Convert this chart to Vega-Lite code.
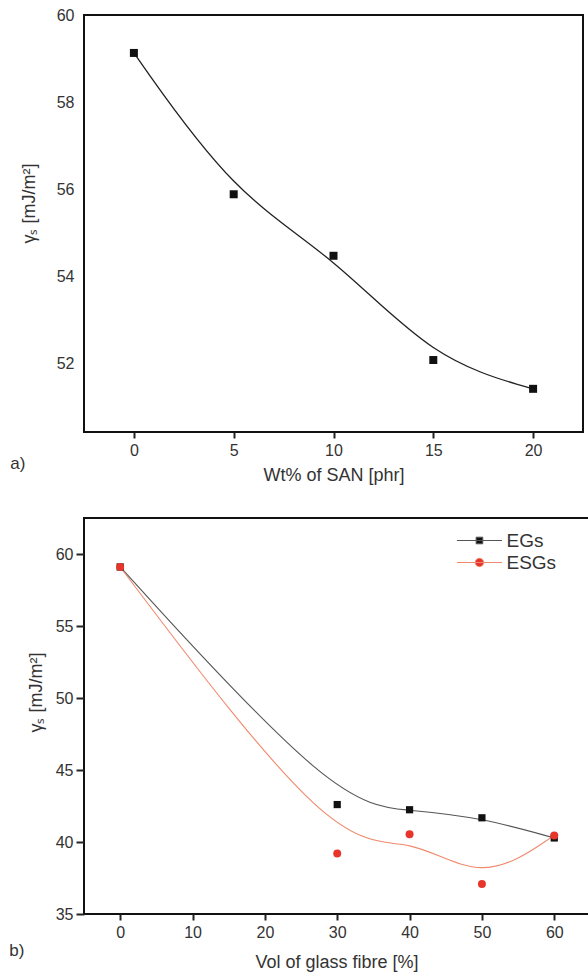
{
  "$schema": "https://vega.github.io/schema/vega-lite/v6.json",
  "padding": {"left": 8, "top": 6, "right": 0, "bottom": 0},
  "spacing": 86,
  "bounds": "flush",
  "config": {
    "font": "Liberation Sans",
    "view": {"stroke": "#111", "strokeWidth": 2},
    "axis": {"grid": false, "domain": false, "labelFont": "Liberation Sans", "titleFont": "Liberation Sans", "labelFontSize": 16, "titleFontSize": 18, "titleFontWeight": "normal", "labelColor": "#333", "titleColor": "#333", "tickColor": "#222", "tickWidth": 2},
    "legend": {"labelFont": "Liberation Sans", "labelFontSize": 19, "labelColor": "#333"},
    "title": {"font": "Liberation Sans", "fontSize": 17, "fontWeight": "normal", "color": "#333"}
  },
  "resolve": {"legend": {"fill": "independent", "shape": "independent", "stroke": "independent"}},
  "vconcat": [
    {
      "width": 499,
      "height": 417,
      "title": {"text": "a)", "orient": "bottom", "anchor": "start", "frame": "bounds", "dx": -10, "dy": -32},
      "data": {"values": [
        {"san": 0, "gamma": 59.13},
        {"san": 5, "gamma": 55.89},
        {"san": 10, "gamma": 54.48},
        {"san": 15, "gamma": 52.09},
        {"san": 20, "gamma": 51.43}
      ]},
      "encoding": {
        "x": {"field": "san", "type": "quantitative", "scale": {"domain": [-2.5, 22.5], "nice": false, "zero": false},
              "axis": {"values": [0, 5, 10, 15, 20], "title": "Wt% of SAN [phr]", "tickSize": 6, "labelPadding": 4, "titlePadding": 8}},
        "y": {"field": "gamma", "type": "quantitative", "scale": {"domain": [50.44, 60], "nice": false, "zero": false},
              "axis": {"values": [52, 54, 56, 58, 60], "title": "γₛ [mJ/m²]", "ticks": false, "labelPadding": 10, "titlePadding": 18, "titleY": 188}}
      },
      "layer": [
        {"mark": {"type": "line", "interpolate": "basis", "color": "#222", "strokeWidth": 1.3}},
        {"mark": {"type": "point", "shape": "square", "filled": true, "color": "#111", "opacity": 1, "size": 64}}
      ]
    },
    {
      "width": 505,
      "height": 396,
      "title": {"text": "b)", "orient": "bottom", "anchor": "start", "frame": "bounds", "dx": -18, "dy": -32},
      "data": {"values": [
        {"vol": 0, "gamma": 59.1, "series": "EGs"},
        {"vol": 30, "gamma": 42.6, "series": "EGs"},
        {"vol": 40, "gamma": 42.24, "series": "EGs"},
        {"vol": 50, "gamma": 41.68, "series": "EGs"},
        {"vol": 60, "gamma": 40.28, "series": "EGs"},
        {"vol": 0, "gamma": 59.1, "series": "ESGs"},
        {"vol": 30, "gamma": 39.2, "series": "ESGs"},
        {"vol": 40, "gamma": 40.53, "series": "ESGs"},
        {"vol": 50, "gamma": 37.08, "series": "ESGs"},
        {"vol": 60, "gamma": 40.46, "series": "ESGs"}
      ]},
      "encoding": {
        "x": {"field": "vol", "type": "quantitative", "scale": {"domain": [-5, 64.8], "nice": false, "zero": false},
              "axis": {"values": [0, 10, 20, 30, 40, 50, 60], "title": "Vol of glass fibre [%]", "tickSize": 6, "labelPadding": 4, "titlePadding": 13}},
        "y": {"field": "gamma", "type": "quantitative", "scale": {"domain": [35, 62.5], "nice": false, "zero": false},
              "axis": {"values": [35, 40, 45, 50, 55, 60], "title": "γₛ [mJ/m²]", "tickSize": 8, "labelPadding": 3, "titlePadding": 10, "titleY": 174}}
      },
      "layer": [
        {"mark": {"type": "line", "interpolate": "basis", "strokeWidth": 1.1},
         "encoding": {"stroke": {"field": "series", "type": "nominal", "scale": {"domain": ["EGs", "ESGs"], "range": ["#555555", "#f08a6e"]},
                                 "legend": {"title": null, "orient": "none", "legendX": 395.5, "legendY": 11, "padding": 0, "symbolSize": 484, "symbolStrokeWidth": 1, "labelOffset": 4, "rowPadding": 0}}}},
        {"transform": [{"filter": "datum.series === 'EGs'"}],
         "mark": {"type": "point", "shape": "square", "filled": true, "color": "#111111", "opacity": 1, "size": 52}},
        {"transform": [{"filter": "datum.series === 'ESGs'"}],
         "mark": {"type": "point", "shape": "circle", "filled": true, "color": "#e8352b", "opacity": 1, "size": 64}},
        {"transform": [{"filter": "datum.vol < -100"}],
         "mark": {"type": "point", "filled": true, "opacity": 1, "strokeWidth": 1},
         "encoding": {
           "fill": {"field": "series", "type": "nominal", "scale": {"domain": ["EGs", "ESGs"], "range": ["#111111", "#e8352b"]},
                    "legend": {"title": null, "orient": "none", "legendX": 395.5, "legendY": 11, "padding": 0, "symbolSize": 484, "symbolStrokeWidth": 1, "labelOffset": 4, "rowPadding": 0}},
           "stroke": {"field": "series", "type": "nominal"},
           "shape": {"field": "series", "type": "nominal", "scale": {"domain": ["EGs", "ESGs"], "range": ["M-3.1,0H1M-1.35,-0.3H-0.75V0.3H-1.35Z", "M-3.1,0H1M-1.43,0A0.38,0.38,0,1,1,-0.67,0A0.38,0.38,0,1,1,-1.43,0Z"]},
                     "legend": {"title": null, "orient": "none", "legendX": 395.5, "legendY": 11, "padding": 0, "symbolSize": 484, "symbolStrokeWidth": 1, "labelOffset": 4, "rowPadding": 0}}
         }}
      ]
    }
  ]
}
